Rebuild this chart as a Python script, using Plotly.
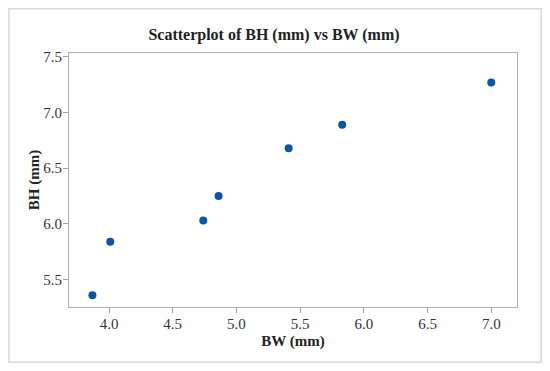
import plotly.graph_objects as go

bw = [3.87, 4.01, 4.74, 4.86, 5.41, 5.83, 7.00]
bh = [5.36, 5.84, 6.03, 6.25, 6.68, 6.89, 7.27]
x_ticks = [4.0, 4.5, 5.0, 5.5, 6.0, 6.5, 7.0]
y_ticks = [5.5, 6.0, 6.5, 7.0, 7.5]

FONT = "Liberation Serif"
W, H = 542, 363  # page body adds an 8px margin
fig = go.Figure(go.Scatter(x=bw, y=bh, mode="markers",
                           marker=dict(color="#0b55a5", size=8)))

axis_common = dict(showline=True, linecolor="#b0b0b0", linewidth=1, mirror=True,
                   ticks="outside", ticklen=5, tickcolor="#a0a0a0",
                   showgrid=False, zeroline=False, automargin=False,
                   ticklabelstandoff=-2,
                   tickfont=dict(family=FONT, size=15, color="#333333"))
fig.update_layout(
    width=W, height=H,
    margin=dict(l=61, r=33, t=45, b=64, autoexpand=False),
    paper_bgcolor="white", plot_bgcolor="white",
    showlegend=False,
    xaxis=dict(range=[3.686, 7.202], tickvals=x_ticks, ticktext=[f"{v:.1f}" for v in x_ticks],
               title=dict(text="<b>BW (mm)</b>", font=dict(family=FONT, size=15, color="#222"), standoff=4),
               **axis_common),
    yaxis=dict(range=[5.254, 7.534], tickvals=y_ticks, ticktext=[f"{v:.1f}" for v in y_ticks],
               title=dict(text="<b>BH (mm)</b>", font=dict(family=FONT, size=15, color="#222"), standoff=0),
               **axis_common),
    title=dict(text="<b>Scatterplot of BH (mm) vs BW (mm)</b>", x=266/W, xanchor="center",
               y=1-26/H, yanchor="middle", font=dict(family=FONT, size=16, color="#222")),
    shapes=[dict(type="rect", xref="paper", yref="paper", x0=-0.134, x1=1.054, y0=-0.218, y1=1.174,
                 line=dict(color="#d8d8d8", width=1.5), layer="below")],
)
fig.write_html("out.html")
